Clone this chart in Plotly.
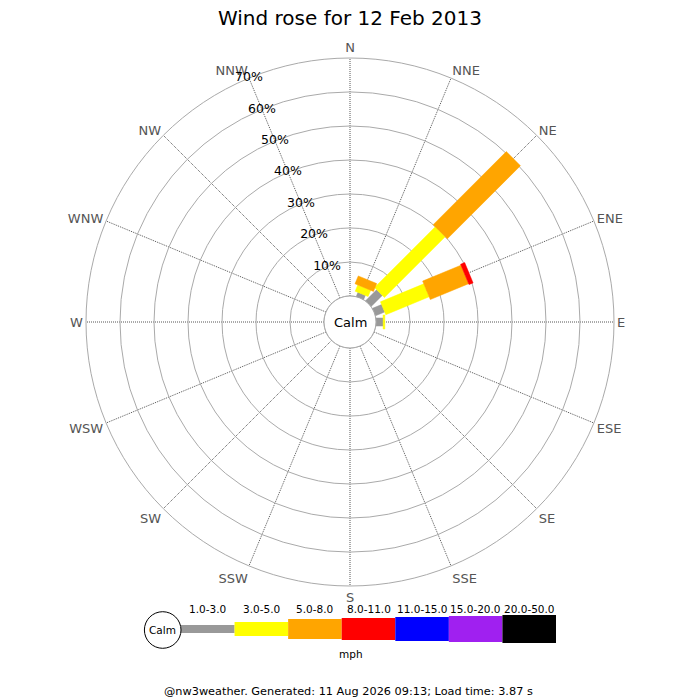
import numpy as np
import plotly.graph_objects as go

# ============================================================
# Данные: повторяемость ветра по направлениям и градациям скорости, %
# ============================================================

directions = ['N', 'NNE', 'NE', 'ENE', 'E', 'ESE', 'SE', 'SSE',
              'S', 'SSW', 'SW', 'WSW', 'W', 'WNW', 'NW', 'NNW']
speed_bins = ['1.0-3.0', '3.0-5.0', '5.0-8.0', '8.0-11.0',
              '11.0-15.0', '15.0-20.0', '20.0-50.0']

# по одной строке на градацию скорости, 16 направлений
freq_1_3 = [0, 1.3, 4.6, 2.9, 2.1, 0, 0, 0, 0, 0, 0, 0, 0, 0, 0, 0]
freq_3_5 = [0, 2.0, 25.3, 13.8, 0.5, 0, 0, 0, 0, 0, 0, 0, 0, 0, 0, 0]
freq_5_8 = [0, 2.5, 30.4, 12.2, 0, 0, 0, 0, 0, 0, 0, 0, 0, 0, 0, 0]
freq_8_11 = [0, 0, 0, 1.3, 0, 0, 0, 0, 0, 0, 0, 0, 0, 0, 0, 0]
freq_11_15 = [0] * 16
freq_15_20 = [0] * 16
freq_20_50 = [0] * 16

radial_ticks = [10, 20, 30, 40, 50, 60, 70]

# ============================================================
# Оформление (страница смещена на 8 px полями body)
# ============================================================

colors = ['#999999', '#ffff00', '#ffa500', '#ff0000',
          '#0000ff', '#a020f0', '#000000']
bar_px = [8, 14, 20, 22, 24, 26, 28]      # толщина полосы, px

W = 700.0
CX, CY = 342.0, 386.0     # центр розы, px (CY — от низа)
R_OUT = 264.0             # радиус внешней окружности, px
R_CALM = 26.0             # радиус круга «Calm», px
R_MAX = 70
hole = R_CALM / R_OUT
px_per_unit = (R_OUT - R_CALM) / R_MAX
c_off = R_MAX * hole / (1 - hole)         # смещение центра в единицах оси

font = 'DejaVu Sans'
theta_dir = np.arange(16) * 22.5

fig = go.Figure()


def rect_polygons(start, end, half_w):
    """Прямоугольные полосы (а не секторы) в полярных координатах."""
    rr, tt = [], []
    for th, a, b in zip(theta_dir, start, end):
        if b - a <= 0:
            continue
        pts = []
        for d, s in ((c_off + a, -1), (c_off + b, -1), (c_off + b, 1), (c_off + a, 1)):
            pts.append((np.hypot(d, half_w) - c_off,
                        th + s * np.degrees(np.arctan2(half_w, d))))
        pts.append(pts[0])
        rr += [p[0] for p in pts] + [None]
        tt += [p[1] for p in pts] + [None]
    return rr, tt


all_freq = [freq_1_3, freq_3_5, freq_5_8, freq_8_11,
            freq_11_15, freq_15_20, freq_20_50]
base = np.zeros(16)
for name, f, col, w in zip(speed_bins, all_freq, colors, bar_px):
    f = np.array(f, dtype=float)
    rr, tt = rect_polygons(base, base + f, w / 2 / px_per_unit)
    base = base + f
    if not rr:
        continue
    fig.add_trace(go.Scatterpolar(
        r=rr, theta=tt, mode='lines', fill='toself',
        fillcolor=col, line=dict(color=col, width=0.5),
        name=name, showlegend=False, hoverinfo='skip'
    ))

# круг «Calm» по границе отверстия
fig.add_trace(go.Scatterpolar(
    r=[0] * 121, theta=np.linspace(0, 360, 121), mode='lines',
    line=dict(color='#aaaaaa', width=1), showlegend=False, hoverinfo='skip'
))

# подписи кругов вдоль NNW
fig.add_trace(go.Scatterpolar(
    r=radial_ticks, theta=[337.5] * len(radial_ticks), mode='text',
    text=[f'{v}%' for v in radial_ticks],
    textfont=dict(family=font, size=12.5, color='black'),
    showlegend=False, hoverinfo='skip'
))

# ============================================================
# Легенда: градации скорости
# ============================================================

fig.add_trace(go.Bar(
    x=list(range(len(speed_bins))), y=bar_px,
    base=[-h / 2 for h in bar_px], width=1,
    marker=dict(color=colors, line=dict(width=0)),
    xaxis='x', yaxis='y', showlegend=False, hoverinfo='skip'
))


def note(text, x, y, size, xref='paper'):
    return dict(text=text, x=x, y=y, xref=xref, yref='paper',
                xanchor='center', yanchor='middle', showarrow=False,
                font=dict(family=font, size=size, color='black'))


annotations = [
    note('Calm', CX / W, CY / W, 13),
    note('Calm', 154.7 / W, 78 / W, 10.5),
    note('mph', 342.5 / W, 54 / W, 10.5),
    note('@nw3weather. Generated: 11 Aug 2026 09:13; Load time: 3.87 s',
         340 / W, 16.3 / W, 11.3),
]
for i, lab in enumerate(speed_bins):
    annotations.append(note(lab, i, 99.5 / W, 10.5, xref='x'))

fig.update_layout(
    width=700, height=700,
    paper_bgcolor='white', plot_bgcolor='white',
    margin=dict(l=0, r=0, t=0, b=0),
    title=dict(text='Wind rose for 12 Feb 2013', x=CX / W, y=1 - 10 / W,
               xanchor='center', yanchor='middle',
               font=dict(family=font, size=20, color='black')),
    polar=dict(
        domain=dict(x=[(CX - R_OUT) / W, (CX + R_OUT) / W],
                    y=[(CY - R_OUT) / W, (CY + R_OUT) / W]),
        hole=hole,
        bgcolor='white',
        radialaxis=dict(range=[0, R_MAX], tickvals=radial_ticks[:-1],
                        showticklabels=False, ticks='', showline=False,
                        gridcolor='#aaaaaa', gridwidth=1, layer='below traces'),
        angularaxis=dict(direction='clockwise', rotation=90,
                         tickmode='array', tickvals=theta_dir, ticktext=directions,
                         ticks='', showline=True, linecolor='#aaaaaa', linewidth=1,
                         gridcolor='#555555', griddash='1px,1px', gridwidth=1,
                         tickfont=dict(family=font, size=13, color='#555555'),
                         layer='below traces'),
    ),
    xaxis=dict(domain=[173 / W, 548 / W], range=[-0.5, 6.5], visible=False,
               fixedrange=True),
    yaxis=dict(domain=[51 / W, 107 / W], range=[-28, 28], visible=False,
               fixedrange=True),
    shapes=[dict(type='circle', xref='paper', yref='paper',
                 x0=136.4 / W, x1=173 / W, y0=59.7 / W, y1=96.3 / W,
                 line=dict(color='black', width=1), fillcolor='white')],
    annotations=annotations,
    showlegend=False,
)

fig.write_html('out.html')
